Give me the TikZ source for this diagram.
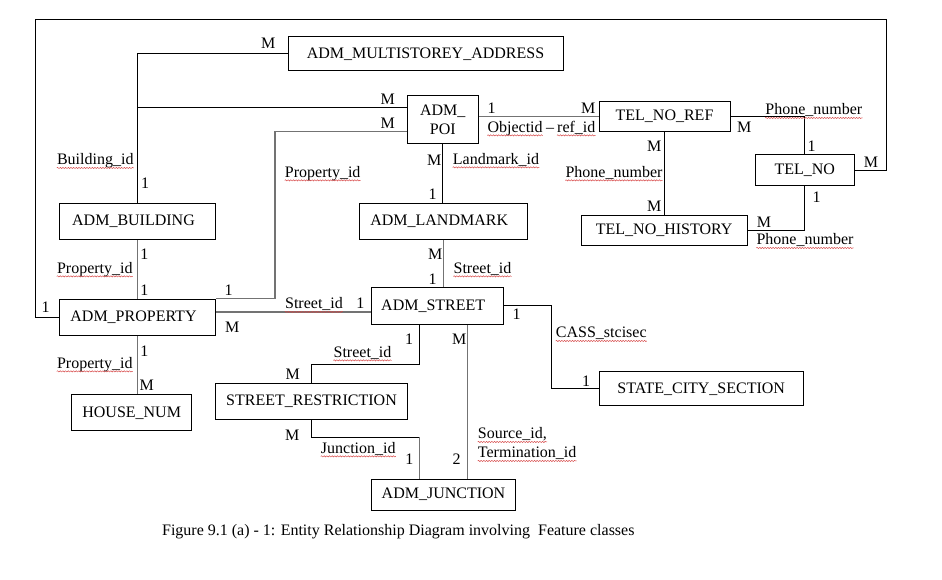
\documentclass[tikz,border=0pt]{standalone}
\usepackage{fontspec}
\setmainfont{Liberation Serif}
\usetikzlibrary{decorations.pathmorphing,calc}
\definecolor{lgray}{RGB}{115,115,115}
\definecolor{sqred}{RGB}{215,70,70}
\begin{document}
\begin{tikzpicture}[x=0.75pt,y=-0.75pt,
  ent/.style={draw, line width=0.75pt, inner sep=0pt, font=\fontsize{12}{14}\selectfont},
  lab/.style={inner sep=0pt, anchor=base, yshift=-4.1pt, font=\fontsize{12}{14}\selectfont},
  ln/.style={line width=0.75pt},
  gl/.style={line width=0.9pt, lgray},
  squig/.style={sqred, line width=0.35pt, decorate, decoration={snake, amplitude=0.45pt, segment length=2pt}}]
\useasboundingbox (0,0) rectangle (942,580);
\fill[white] (0,0) rectangle (942,580);

% entities
\node[ent, minimum width=206.25pt, minimum height=25.7pt] (multi) at (425.5,53.8) {ADM\_MULTISTOREY\_ADDRESS};
\node[ent, minimum width=53.25pt, minimum height=35.7pt, align=center] (poi) at (442.8,119.5) {ADM\_\\POI};
\node[ent, minimum width=98.25pt, minimum height=22.5pt] (telref) at (664.5,116.7) {TEL\_NO\_REF};
\node[ent, minimum width=74.25pt, minimum height=23.25pt] (telno) at (804.8,170.5) {TEL\_NO};
\node[ent, minimum width=124.7pt, minimum height=22.3pt] (hist) at (664.2,230.2) {TEL\_NO\_HISTORY};
\node[ent, minimum width=117.3pt, minimum height=27pt] (bld) at (137.5,221.3) {ADM\_BUILDING\hspace*{6pt}};
\node[ent, minimum width=126.2pt, minimum height=27pt] (land) at (443.2,221.3) {ADM\_LANDMARK\hspace*{6pt}};
\node[ent, minimum width=117.3pt, minimum height=27pt] (prop) at (137.5,317.3) {ADM\_PROPERTY\hspace*{6pt}};
\node[ent, minimum width=99.2pt, minimum height=27.75pt] (street) at (437.2,305.8) {ADM\_STREET\hspace*{6pt}};
\node[ent, minimum width=153.2pt, minimum height=25.7pt] (scs) at (701.2,388.8) {STATE\_CITY\_SECTION};
\node[ent, minimum width=90pt, minimum height=27pt] (house) at (131.7,413) {HOUSE\_NUM};
\node[ent, minimum width=144.3pt, minimum height=27pt] (sr) at (311.5,401.3) {STREET\_RESTRICTION};
\node[ent, minimum width=108.3pt, minimum height=23pt] (junc) at (443.5,494.7) {ADM\_JUNCTION};

% connectors
\coordinate (lpA) at (35,20);
\coordinate (lpB) at (886,20);
\draw[ln] (prop.west) -- (prop.west -| lpA) -- (lpA) -- (lpB) -- (lpB |- telno.east) -- (telno.east);
\draw[ln] (multi.west) -| (bld.north);
\coordinate (ja) at (137.5,107.3);
\draw[ln] (ja) -- (ja -| poi.west);
\coordinate (jb) at (275,131.7);
\draw[gl] (jb -| poi.west) -- (jb) |- (prop.north east);
\draw[ln] (poi.south) -- (poi.south |- land.north);
\draw[gl] (telref.west) -- (telref.west -| poi.east);
\draw[ln] (telref.east) -| (telno.north);
\draw[ln] (telref.south) -- (telref.south |- hist.north);
\draw[ln] (hist.east) -| (telno.south);
\draw[gl] (bld.south) -- (prop.north);
\coordinate (jc) at (0,312);
\draw[gl] (prop.east |- jc) -- (street.west |- jc);
\draw[gl] (land.south) -- (land.south |- street.north);
\draw[gl] (prop.south) -- (prop.south |- house.north);
\coordinate (jd) at (419,365);
\draw[ln] (street.south -| jd) -- (jd) -| (sr.north);
\coordinate (je) at (467.2,0);
\draw[gl] (je |- street.south) -- (je |- junc.north);
\coordinate (jf) at (419.3,437.3);
\draw[ln] (sr.south) |- (jf);
\draw[gl] (jf) -- (jf |- junc.north);
\coordinate (jg) at (551.3,0);
\draw[ln] (street.east) -| (jg |- scs.west) -- (scs.west);

% cardinalities
\node[lab] (c1) at (268.3,43.3) {M};
\node[lab] (c2) at (387.7,99) {M};
\node[lab] (c3) at (387.7,123.3) {M};
\node[lab] (c4) at (145,183.3) {1};
\node[lab] (c5) at (434.3,160) {M};
\node[lab] (c6) at (432.7,194) {1};
\node[lab] (c7) at (491.7,108.3) {1};
\node[lab] (c8) at (588.3,108.3) {M};
\node[lab] (c9) at (744.3,126.7) {M};
\node[lab] (c10) at (811.7,145.7) {1};
\node[lab] (c11) at (871,162.3) {M};
\node[lab] (c12) at (654.3,145.7) {M};
\node[lab] (c13) at (654.3,206) {M};
\node[lab] (c14) at (764,221.7) {M};
\node[lab] (c15) at (816.7,196.7) {1};
\node[lab] (c16) at (144.3,254.3) {1};
\node[lab] (c17) at (144.3,290) {1};
\node[lab] (c18) at (228.7,290) {1};
\node[lab] (c19) at (45.7,306.7) {1};
\node[lab] (c20) at (360.3,303.3) {1};
\node[lab] (c21) at (232.3,326.7) {M};
\node[lab] (c22) at (435.3,254.3) {M};
\node[lab] (c23) at (432.7,278.7) {1};
\node[lab] (c24) at (409,338.7) {1};
\node[lab] (c25) at (459.3,338.7) {M};
\node[lab] (c26) at (292.7,374.3) {M};
\node[lab] (c27) at (144.3,351) {1};
\node[lab] (c28) at (146.7,385) {M};
\node[lab] (c29) at (516.7,314) {1};
\node[lab] (c30) at (586,380.7) {1};
\node[lab] (c31) at (292.3,435) {M};
\node[lab] (c32) at (409.3,459) {1};
\node[lab] (c33) at (456.7,459) {2};

% attribute labels
\node[lab] (a1) at (95.3,159.3) {Building\_id};
\node[lab] (a2) at (322.7,171.7) {Property\_id};
\node[lab] (a3) at (496,158.7) {Landmark\_id};
\node[lab, anchor=base west] (a4) at (487.3,126.7) {Objectid};
\node[lab] (dash) at (550,126.7) {–};
\node[lab, anchor=base east] (a5) at (595.7,126.7) {ref\_id};
\node[lab] (a6) at (813.8,109.3) {Phone\_number};
\node[lab] (a7) at (614,171.7) {Phone\_number};
\node[lab] (a8) at (805,239.3) {Phone\_number};
\node[lab] (a9) at (94.8,267.7) {Property\_id};
\node[lab] (a10) at (314,303.3) {Street\_id};
\node[lab] (a11) at (482.5,267.7) {Street\_id};
\node[lab] (a12) at (362.5,351.7) {Street\_id};
\node[lab] (a13) at (94.8,362.7) {Property\_id};
\node[lab] (a14) at (601.3,332.3) {CASS\_stcisec};
\node[lab] (a15) at (358.3,447.7) {Junction\_id};
\node[lab, anchor=base west] (a16) at (477.7,433.3) {Source\_id,};
\node[lab, anchor=base west] (a17) at (477.7,452.3) {Termination\_id};

\foreach \n in {a1,a2,a3,a4,a5,a6,a7,a8,a9,a10,a11,a12,a13,a14,a15,a16,a17}
  \draw[squig] ([yshift=-2.4pt]\n.base west) -- ([yshift=-2.4pt]\n.base east);

% caption
\node[lab] (cap) at (398.3,530) {Figure 9.1 (a) - 1: Entity Relationship Diagram involving~ Feature classes};
\end{tikzpicture}
\end{document}
